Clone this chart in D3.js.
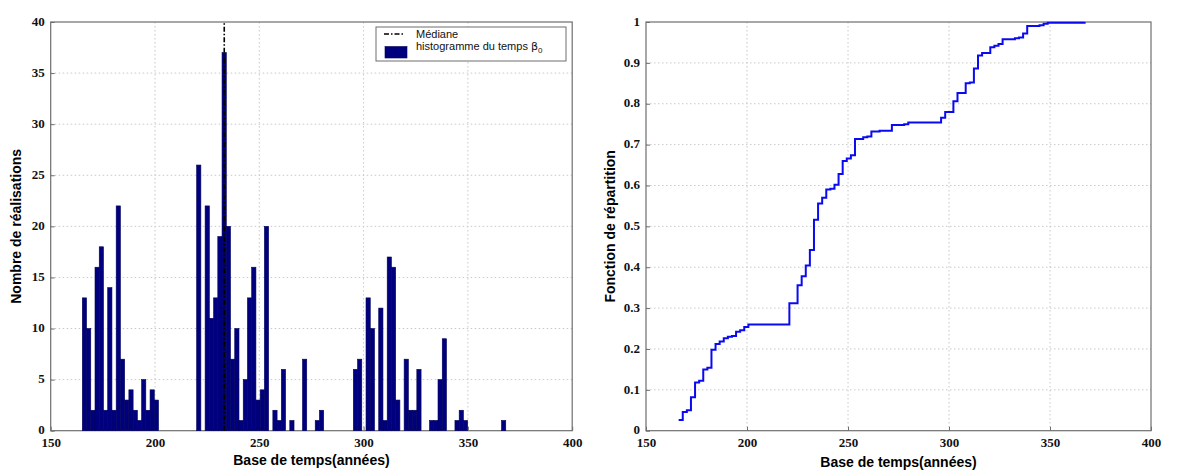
<!DOCTYPE html>
<html>
<head>
<meta charset="utf-8">
<script src="https://cdn.jsdelivr.net/npm/d3@7"></script>
<style>
  html, body { margin: 0; padding: 0; background: #fff; }
  svg { display: block; }
</style>
</head>
<body>
<svg id="chart" width="1180" height="470"></svg>
<script>
// ---------- data ----------
const binStart = 165.15;      // left edge of the first histogram bin (years)
const binWidth = 2.03;        // bin width (years)
const counts = [
  13,10,2,16,18,2,14,2,22,7, 3,4,2,1,5,2,4,3,0,0,
  0,0,0,0,0,0,0,26,0,22, 11,13,19,37,20,7,10,1,5,13,
  16,3,4,20,0,2,1,6,0,1, 0,0,7,0,0,1,2,0,0,0,
  0,0,0,0,6,7,0,13,10,0, 12,1,17,16,3,0,7,2,2,6,
  0,0,1,1,5,9,0,0,1,2, 1,0,0,0,0,0,0,0,0,1
];
const median = 233.2;
const xTicks = [150, 200, 250, 300, 350, 400];
const yTicksHist = [0, 5, 10, 15, 20, 25, 30, 35, 40];
const yTicksCdf = [0, 0.1, 0.2, 0.3, 0.4, 0.5, 0.6, 0.7, 0.8, 0.9, 1];
const xTitle = "Base de temps(années)";
const yTitleHist = "Nombre de réalisations";
const yTitleCdf = "Fonction de répartition";
const legendLabels = ["Médiane", "histogramme du temps "];

// ---------- helpers ----------
const svg = d3.select("#chart");
const tickFont = "'Liberation Serif', 'DejaVu Serif', serif";
const sansFont = "'Liberation Sans', Arial, sans-serif";
const frameColor = "#6e6e6e";
const gridColor = "#c8c8c8";

function drawAxes(g, x, y, yTicks, yFmt, W, H) {
  // grid
  g.append("g").selectAll("line").data(xTicks.slice(1, -1)).join("line")
    .attr("x1", d => x(d)).attr("x2", d => x(d)).attr("y1", 0).attr("y2", H)
    .attr("stroke", gridColor).attr("stroke-width", 1).attr("stroke-dasharray", "1.5,2.5");
  g.append("g").selectAll("line").data(yTicks.slice(1, -1)).join("line")
    .attr("x1", 0).attr("x2", W).attr("y1", d => y(d)).attr("y2", d => y(d))
    .attr("stroke", gridColor).attr("stroke-width", 1).attr("stroke-dasharray", "1.5,2.5");

  const xb = g.append("g").attr("transform", `translate(0,${H})`)
    .call(d3.axisBottom(x).tickValues(xTicks).tickSizeInner(-4).tickSizeOuter(0).tickPadding(9));
  const yl = g.append("g")
    .call(d3.axisLeft(y).tickValues(yTicks).tickFormat(yFmt).tickSizeInner(-4).tickSizeOuter(0).tickPadding(6));
  for (const a of [xb, yl]) {
    a.select(".domain").remove();
    a.selectAll(".tick line").attr("stroke", frameColor);
    a.selectAll(".tick text").attr("font-family", tickFont).attr("font-weight", "bold")
      .attr("font-size", 13).attr("fill", "#111");
  }
  xb.selectAll(".tick text").attr("dy", "0.55em");
  yl.selectAll(".tick text").attr("dy", "0.25em");
  // frame
  g.append("rect").attr("x", 0).attr("y", 0).attr("width", W).attr("height", H)
    .attr("fill", "none").attr("stroke", frameColor).attr("stroke-width", 1.2);
}

// ---------- left: histogram ----------
{
  const L = 50.7, T = 22, W = 521.5, H = 408.7;
  const g = svg.append("g").attr("transform", `translate(${L},${T})`);
  const x = d3.scaleLinear().domain([150, 400]).range([0, W]);
  const y = d3.scaleLinear().domain([0, 40]).range([H, 0]);
  const bins = counts.map((c, i) => ({ x0: binStart + i * binWidth, x1: binStart + (i + 1) * binWidth, c }));

  drawAxes(g, x, y, yTicksHist, d3.format("d"), W, H);

  g.append("g").selectAll("rect").data(bins.filter(b => b.c > 0)).join("rect")
    .attr("x", d => x(d.x0)).attr("width", d => x(d.x1) - x(d.x0))
    .attr("y", d => y(d.c)).attr("height", d => y(0) - y(d.c))
    .attr("fill", "#00007f").attr("stroke", "#00005a").attr("stroke-width", 0.6);

  g.append("line").attr("x1", x(median)).attr("x2", x(median)).attr("y1", y(0)).attr("y2", y(40))
    .attr("stroke", "#000").attr("stroke-width", 1.6).attr("stroke-dasharray", "5,2,1.5,2");

  // legend
  const lg = svg.append("g").attr("transform", "translate(376,27)");
  lg.append("rect").attr("width", 190).attr("height", 34).attr("fill", "#fff")
    .attr("stroke", frameColor).attr("stroke-width", 1);
  lg.append("line").attr("x1", 8).attr("x2", 29).attr("y1", 7).attr("y2", 7)
    .attr("stroke", "#000").attr("stroke-width", 1.6).attr("stroke-dasharray", "5,2,1.5,2");
  lg.append("text").attr("x", 40).attr("y", 11).text(legendLabels[0])
    .attr("font-family", sansFont).attr("font-size", 11).attr("fill", "#111");
  lg.append("rect").attr("x", 9).attr("y", 19.5).attr("width", 22).attr("height", 11.5)
    .attr("fill", "#00007f").attr("stroke", "#00005a").attr("stroke-width", 0.6);
  const t2 = lg.append("text").attr("x", 40).attr("y", 23)
    .attr("font-family", sansFont).attr("font-size", 11).attr("fill", "#111");
  t2.append("tspan").text(legendLabels[1]);
  t2.append("tspan").text("β").attr("font-family", "'DejaVu Sans', sans-serif").attr("font-size", 11);
  t2.append("tspan").text("0").attr("font-size", 8).attr("dy", 3);

  svg.append("text").attr("x", L + W / 2).attr("y", 465).attr("text-anchor", "middle")
    .attr("font-family", sansFont).attr("font-weight", "bold").attr("font-size", 14).text(xTitle);
  svg.append("text").attr("transform", `translate(21,${T + H / 2}) rotate(-90)`).attr("text-anchor", "middle")
    .attr("font-family", sansFont).attr("font-weight", "bold").attr("font-size", 14).text(yTitleHist);
}

// ---------- right: cumulative distribution ----------
{
  const L = 646, T = 22, W = 505, H = 408.7;
  const g = svg.append("g").attr("transform", `translate(${L},${T})`);
  const x = d3.scaleLinear().domain([150, 400]).range([0, W]);
  const y = d3.scaleLinear().domain([0, 1]).range([H, 0]);
  const total = d3.sum(counts);
  let cum = 0;
  const pts = [];
  counts.forEach((c, i) => {
    if (c > 0) { cum += c; pts.push([binStart + (i + 0.5) * binWidth, cum / total]); }
  });

  drawAxes(g, x, y, yTicksCdf, d => (d === 0 || d === 1) ? d3.format("d")(d) : d3.format(".1f")(d), W, H);

  g.append("path").datum(pts)
    .attr("d", d3.line().x(d => x(d[0])).y(d => y(d[1])).curve(d3.curveStepAfter))
    .attr("fill", "none").attr("stroke", "#0a0af0").attr("stroke-width", 2);

  svg.append("text").attr("x", L + W / 2).attr("y", 467).attr("text-anchor", "middle")
    .attr("font-family", sansFont).attr("font-weight", "bold").attr("font-size", 14).text(xTitle);
  svg.append("text").attr("transform", `translate(615,${T + H / 2}) rotate(-90)`).attr("text-anchor", "middle")
    .attr("font-family", sansFont).attr("font-weight", "bold").attr("font-size", 14).text(yTitleCdf);
}
</script>
</body>
</html>
